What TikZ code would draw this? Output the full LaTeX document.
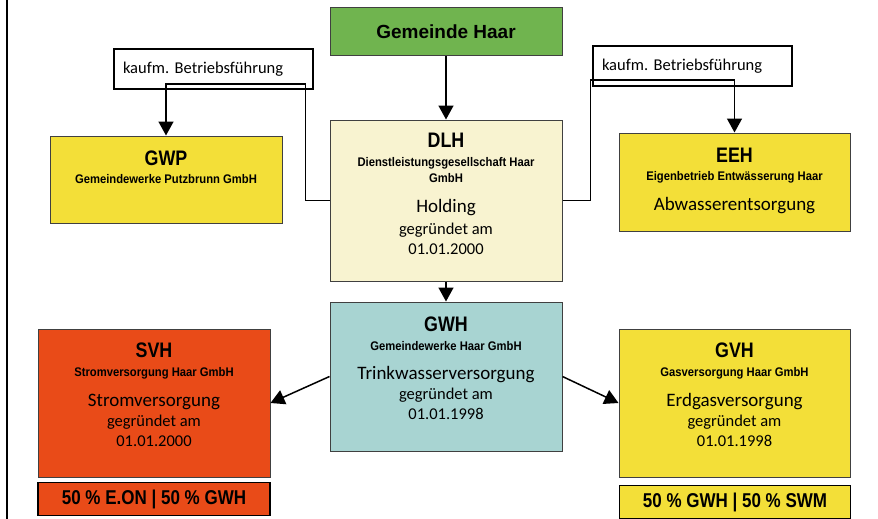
\documentclass[tikz,border=0pt]{standalone}
\usepackage{fontspec}
\usetikzlibrary{arrows.meta}
\newfontfamily\headfont{Liberation Sans}
\newfontfamily\condfont[FakeStretch=0.85]{Liberation Sans}
\newfontfamily\subfont[FakeStretch=0.9]{Liberation Sans}
\newfontfamily\bodyfont{Carlito}
\definecolor{haargreen}{HTML}{70B44F}
\definecolor{haaryellow}{HTML}{F3DF38}
\definecolor{haarcream}{HTML}{F8F3D0}
\definecolor{haarteal}{HTML}{A8D4D2}
\definecolor{haarorange}{HTML}{E94B18}
\newcommand\orgname[1]{{\condfont\bfseries\fontsize{21}{21}\selectfont #1}}
\newcommand\orgfull[1]{{\subfont\bfseries\fontsize{12.5}{12.5}\selectfont #1}}
\newcommand\orgtask[1]{{\bodyfont\fontsize{19}{19}\selectfont #1}}
\newcommand\orgdate[1]{{\bodyfont\fontsize{16.5}{16.5}\selectfont #1}}
\newcommand\pad[1]{\rule[-#1]{0pt}{#1}}
\frenchspacing
\begin{document}
\begin{tikzpicture}[x=1pt,y=-1pt,
  orgbox/.style={draw=black!75, line width=1pt, align=center, inner sep=0pt, font=\fontsize{10}{20}\selectfont},
  notebox/.style={draw, line width=1.6pt, fill=white, align=left, text width=181pt, inner xsep=9pt, minimum height=40pt, font=\bodyfont\fontsize{16.5}{18}\selectfont},
  sharebox/.style={draw, line width=1.8pt, minimum width=232pt, minimum height=33pt, inner sep=0pt, font=\condfont\bfseries\fontsize{20}{20}\selectfont},
  link/.style={line width=1.5pt, -{Triangle[width=15pt,length=14pt]}}]
\useasboundingbox (0,0) rectangle (878,519);
\draw[line width=1.6pt] (7,0) -- (7,519);
% top level
\node[orgbox, fill=haargreen, minimum width=232pt, minimum height=48pt, font=\headfont\bfseries\fontsize{19}{20}\selectfont] (haar) at (446,32) {Gemeinde Haar};
\node[notebox] (notel) at (213.5,69) {kaufm. Betriebsführung};
\node[notebox] (noter) at (692.5,66) {kaufm. Betriebsführung};
% holding row
\node[orgbox, fill=haaryellow, minimum width=232pt, minimum height=87pt] (gwp) at (166,179.5)
  {\orgname{GWP}\\[-2pt]\orgfull{Gemeindewerke Putzbrunn GmbH}\pad{25pt}};
\node[orgbox, fill=haarcream, minimum width=232pt, minimum height=161pt] (dlh) at (446,200.5)
  {\orgname{DLH}\\[-1pt]\orgfull{Dienstleistungsgesellschaft Haar}\\[-4pt]\orgfull{GmbH}\\[10pt]\orgtask{Holding}\\[2pt]\orgdate{gegründet am}\\\orgdate{01.01.2000}\pad{13pt}};
\node[orgbox, fill=haaryellow, minimum width=231pt, minimum height=98pt] (eeh) at (734.5,182)
  {\orgname{EEH}\\[-2pt]\orgfull{Eigenbetrieb Entwässerung Haar}\\[10pt]\orgtask{Abwasserentsorgung}\pad{6pt}};
% utilities
\node[orgbox, fill=haarteal, minimum width=232pt, minimum height=149pt] (gwh) at (446,376.5)
  {\orgname{GWH}\\[-1pt]\orgfull{Gemeindewerke Haar GmbH}\\[9pt]\orgtask{Trinkwasserversorgung}\\\orgdate{gegründet am}\\\orgdate{01.01.1998}\pad{16pt}};
\node[orgbox, fill=haarorange, minimum width=232pt, minimum height=148pt] (svh) at (154,403)
  {\orgname{SVH}\\[-1pt]\orgfull{Stromversorgung Haar GmbH}\\[10pt]\orgtask{Stromversorgung}\\\orgdate{gegründet am}\\\orgdate{01.01.2000}\pad{16pt}};
\node[orgbox, fill=haaryellow, minimum width=231pt, minimum height=148pt] (gvh) at (734.5,403)
  {\orgname{GVH}\\[-1pt]\orgfull{Gasversorgung Haar GmbH}\\[10pt]\orgtask{Erdgasversorgung}\\\orgdate{gegründet am}\\\orgdate{01.01.1998}\pad{16pt}};
\node[sharebox, fill=haarorange] (svhshare) at (154,499) {50 \% E.ON | 50 \% GWH};
\node[sharebox, fill=haaryellow, minimum width=231pt] (gvhshare) at (735,502) {50 \% GWH | 50 \% SWM};
% connectors
\draw[link] (haar) -- (dlh);
\draw[link] (dlh) -- (gwh);
\draw[link] (dlh.west) -- ++(-24,0) |- ([yshift=6pt]notel.south) -| (gwp.north);
\draw[link] (dlh.east) -- ++(28,0) |- ([yshift=7pt]noter.south) -| (eeh.north);
\draw[link] (gwh.west) -- (svh.east);
\draw[link] (gwh.east) -- (gvh.west);
\end{tikzpicture}
\end{document}
